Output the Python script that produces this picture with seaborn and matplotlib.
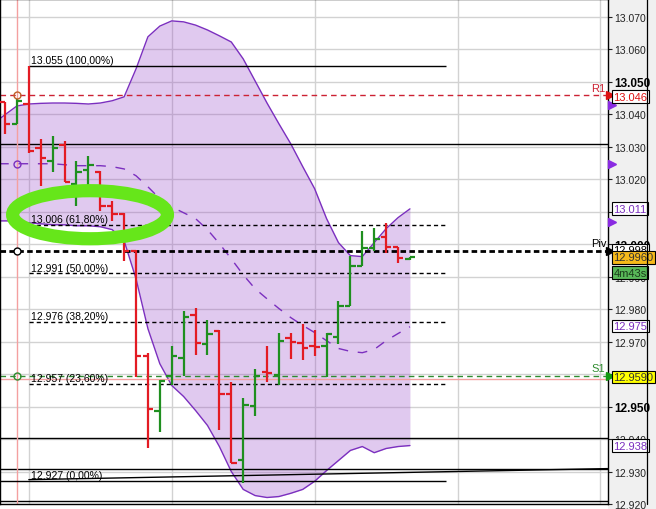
import matplotlib
matplotlib.use("Agg")
import matplotlib.pyplot as plt
from matplotlib.patches import Ellipse, Rectangle
from matplotlib.lines import Line2D
import seaborn as sns
import numpy as np

# OHLC bars (one per index)
opens = [13.0438, 13.0371, 13.0432, 13.0297, 13.0257, 13.0306, 13.0186, 13.0229, 13.0223, 13.0118,
         13.0094, 12.9980, 12.9657, 12.9485, 12.9595, 12.9651, 12.9783, 12.9694, 12.9734, 12.9540,
         12.9334, 12.9503, 12.9608, 12.9598, 12.9712, 12.9697, 12.9688, 12.9688, 12.9715, 12.9811,
         12.9934, 12.9989, 13.0023, 12.9992, 12.9955]
highs = [13.0438, 13.0448, 13.0550, 13.0325, 13.0334, 13.0318, 13.0257, 13.0272, 13.0226, 13.0134,
         13.0097, 12.9983, 12.9666, 12.9583, 12.9688, 12.9795, 12.9805, 12.9768, 12.9737, 12.9577,
         12.9528, 12.9617, 12.9688, 12.9728, 12.9728, 12.9755, 12.9737, 12.9728, 12.9826, 12.9965,
         13.0042, 13.0051, 13.0066, 12.9992, 12.9962]
lows = [13.0340, 13.0371, 13.0282, 13.0180, 13.0223, 13.0192, 13.0118, 13.0180, 13.0103, 13.0072,
        12.9949, 12.9592, 12.9374, 12.9423, 12.9565, 12.9595, 12.9660, 12.9660, 12.9429, 12.9325,
        12.9266, 12.9472, 12.9577, 12.9565, 12.9648, 12.9642, 12.9657, 12.9592, 12.9694, 12.9811,
        12.9934, 12.9980, 12.9974, 12.9943, 12.9952]
closes = [13.0371, 13.0442, 13.0288, 13.0266, 13.0297, 13.0192, 13.0223, 13.0245, 13.0118, 13.0094,
          12.9980, 12.9657, 12.9494, 12.9580, 12.9657, 12.9777, 12.9697, 12.9725, 12.9540, 12.9325,
          12.9506, 12.9595, 12.9605, 12.9703, 12.9700, 12.9679, 12.9685, 12.9725, 12.9811, 12.9934,
          12.9989, 13.0017, 12.9992, 12.9958, 12.9960]

# bollinger bands, from index -1 to 34
band_idx = list(range(-1, 35))
upper = [13.0371, 13.0399, 13.0426, 13.0432, 13.0434, 13.0435, 13.0435, 13.0434, 13.0432, 13.0435,
         13.0442, 13.0454, 13.0540, 13.0639, 13.0672, 13.0688, 13.0685, 13.0675, 13.0660, 13.0642,
         13.0623, 13.0571, 13.0503, 13.0435, 13.0371, 13.0309, 13.0239, 13.0171, 13.0079, 13.0005,
         12.9965, 12.9962, 13.0005, 13.0048, 13.0082, 13.0109]
middle = [13.0248, 13.0248, 13.0248, 13.0248, 13.0248, 13.0248, 13.0245, 13.0242, 13.0242, 13.0242,
          13.0239, 13.0232, 13.0211, 13.0177, 13.0140, 13.0115, 13.0097, 13.0079, 13.0045, 13.0002,
          12.9955, 12.9906, 12.9863, 12.9832, 12.9802, 12.9774, 12.9750, 12.9728, 12.9703, 12.9679,
          12.9670, 12.9666, 12.9676, 12.9703, 12.9725, 12.9746]
lower = [13.0072, 13.0072, 13.0072, 13.0066, 13.0063, 13.0060, 13.0060, 13.0057, 13.0057, 13.0054,
         13.0045, 13.0011, 12.9894, 12.9740, 12.9632, 12.9565, 12.9531, 12.9488, 12.9442, 12.9377,
         12.9300, 12.9245, 12.9226, 12.9220, 12.9223, 12.9233, 12.9245, 12.9270, 12.9303, 12.9334,
         12.9365, 12.9377, 12.9358, 12.9371, 12.9377, 12.9380]

# fibonacci retracement
fib_prices = [13.055, 13.006, 12.991, 12.976, 12.957, 12.927]
fib_labels = ["13.055 (100,00%)", "13.006 (61,80%)", "12.991 (50,00%)",
              "12.976 (38,20%)", "12.957 (23,60%)", "12.927 (0,00%)"]
fib_solid = [True, False, False, False, False, True]

# pivot levels
r1, piv, s1 = 13.046, 12.998, 12.9595
pink_level = 12.9586
solid_levels = [13.0309, 12.9404, 12.9309, 12.9210]
trend_x = [2, 50.6]
trend_y = [12.9275, 12.9309]
purple_marks = [13.0429, 13.0248, 13.0069]

ytick_vals = [12.92 + 0.01 * k for k in range(16)]
# 12.960 and 13.010 sit under value tags on the scale
ytick_labels = ["12.920", "12.930", "12.940", "12.950", "", "12.970", "12.980", "12.990",
                "13.000", "", "13.020", "13.030", "13.040", "13.050", "13.060", "13.070"]
bold_ticks = ["12.950", "13.000", "13.050"]

RED = "#e31b23"
GREEN = "#1f8f1f"
PURPLE = "#7b2fbf"

sns.set_style("white")
plt.rcParams['font.family'] = ['Liberation Sans', 'DejaVu Sans']

fig = plt.figure(figsize=(6.56, 5.10), dpi=100)
fig.add_artist(Rectangle((608 / 656, 0), 48 / 656, 1, transform=fig.transFigure,
                         fc="#f0f0f0", ec="none", zorder=-1))
ax = fig.add_axes([0, 5 / 510, 608 / 656, 505 / 510])
ax.set_xlim(-0.42, 50.63)
ax.set_ylim(12.92015, 13.07554)

# grid
ax.set_axisbelow(True)
ax.set_xticks([2, 14, 26, 38, 50])
ax.set_yticks(ytick_vals)
ax.set_yticklabels(ytick_labels)
ax.grid(True, color="#d2d2d2", lw=1)
ax.yaxis.tick_right()
ax.tick_params(axis="x", bottom=False, labelbottom=False)
ax.tick_params(axis="y", right=True, length=3, width=0.8, pad=1.2, labelsize=7.5,
               colors="#222222")
for lbl in ax.get_yticklabels():
    if lbl.get_text() in bold_ticks:
        lbl.set_fontweight("bold")
        lbl.set_fontsize(8.5)
        lbl.set_color("black")
for sp in ax.spines.values():
    sp.set_color("black")
    sp.set_linewidth(1)

# bands
ax.fill_between(band_idx, lower, upper, color="#9b4dca", alpha=0.3, lw=0, zorder=1)
sns.lineplot(x=band_idx, y=upper, ax=ax, color=PURPLE, lw=1, sort=False, zorder=2)
sns.lineplot(x=band_idx, y=lower, ax=ax, color=PURPLE, lw=1, sort=False, zorder=2)
sns.lineplot(x=band_idx, y=middle, ax=ax, color=PURPLE, lw=1, sort=False, zorder=2,
             linestyle=(0, (7, 7)))

# horizontal levels
for p in solid_levels:
    ax.axhline(p, color="black", lw=1, zorder=2)
ax.plot(trend_x, trend_y, color="black", lw=1, zorder=2)
ax.axhline(r1, color="#cc2233", lw=1, ls=(0, (4, 3)), zorder=2)
ax.axhline(piv, color="black", lw=2, ls=(0, (2, 1.2)), zorder=2)
ax.axhline(s1, color="#2e8b2e", lw=1, ls=(0, (4, 3)), zorder=2)
ax.axhline(pink_level, color="#f4a0a0", lw=1, zorder=2)
ax.axvline(1, color="#f4a0a0", lw=1, zorder=2)

for p, lab, solid in zip(fib_prices, fib_labels, fib_solid):
    x0 = -0.42 if p == fib_prices[-1] else 2
    ax.hlines(p, x0, 37, color="black", lw=1, ls="-" if solid else (0, (3, 2.2)), zorder=2)
    ax.text(2.2, p + 0.0009, lab, fontsize=7.5, color="black", va="baseline", zorder=3)

# OHLC bars
idx = np.arange(len(opens))
cols = [GREEN if c >= o else RED for o, c in zip(opens, closes)]
ax.vlines(idx, lows, highs, colors=cols, lw=1.6, zorder=4)
ax.hlines(opens, idx - 0.45, idx, colors=cols, lw=1.6, zorder=4)
ax.hlines(closes, idx, idx + 0.45, colors=cols, lw=1.6, zorder=4)

# small markers on the pink vertical
ax.plot([1], [r1], marker="o", ms=5, mfc="none", mec="#c0602a", zorder=5)
ax.plot([1], [piv], marker="o", ms=5, mfc="white", mec="black", zorder=5)
ax.plot([1], [s1], marker="o", ms=5, mfc="none", mec="#2e8b2e", zorder=5)
ax.plot([1], [middle[2]], marker="o", ms=5, mfc="none", mec=PURPLE, zorder=5)

# pivot labels
ax.text(0.995, r1 + 0.0007, "R1", transform=ax.get_yaxis_transform(), ha="right",
        va="bottom", fontsize=8, color="#cc2233")
ax.text(0.998, piv + 0.0007, "Piv", transform=ax.get_yaxis_transform(), ha="right",
        va="bottom", fontsize=8, color="black")
ax.text(0.995, s1 + 0.0007, "S1", transform=ax.get_yaxis_transform(), ha="right",
        va="bottom", fontsize=8, color="#2e8b2e")

# markers on right edge
tr = ax.get_yaxis_transform()
for p, c in [(r1, "#dd1111"), (piv, "black"), (s1, "#119911")]:
    ax.plot([1.004], [p], marker=">", ms=6, color=c, transform=tr, clip_on=False, zorder=6)
for p in purple_marks:
    ax.plot([1.006], [p], marker=">", ms=6, color="#8a2be2", transform=tr, clip_on=False, zorder=6)

# value tags on the price scale
tags = [
    (13.0455, "13.046", "white", "#dd1111"),
    (13.011, "13.011", "white", PURPLE),
    (12.9982, "12.998", "white", "black"),
    (12.9960, "12.9960", "#f6b91a", "#333333"),
    (12.9913, "4m43s", "#58b858", "#1a3a1a"),
    (12.9748, "12.975", "white", PURPLE),
    (12.9591, "12.9590", "#ffff00", "#333333"),
    (12.9380, "12.938", "white", PURPLE),
]
for p, txt, fc, tc in tags:
    ax.text(1.009, p, txt, transform=tr, ha="left", va="center", fontsize=8, color=tc,
            clip_on=False, zorder=7,
            bbox=dict(boxstyle="square,pad=0.12", fc=fc, ec="black", lw=0.8))

fig.add_artist(Line2D([647 / 656, 647 / 656], [0.01, 1], transform=fig.transFigure,
                      color="black", lw=0.9, zorder=20))

# hand drawn highlight
ax.add_patch(Ellipse((7.14, 13.0091), 13.0, 0.0148, fill=False, ec="#66e61a", lw=9.5, zorder=10))

fig.savefig("out.png", dpi=100)
